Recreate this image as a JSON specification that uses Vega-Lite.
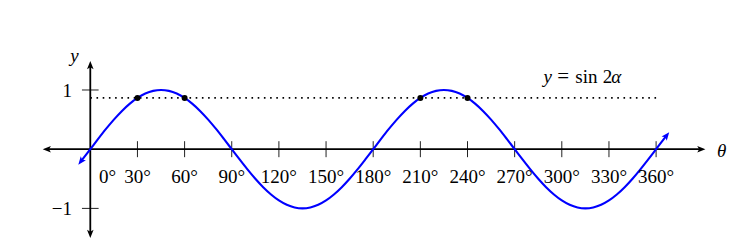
{
  "$schema": "https://vega.github.io/schema/vega-lite/v6.json",
  "width": 742,
  "height": 252,
  "padding": 0,
  "autosize": {"type": "none"},
  "background": "white",
  "config": {"view": {"stroke": null}},
  "datasets": {
    "curve": [
      {"x": -5.8, "y": -0.201}, {"x": -5, "y": -0.1736}, {"x": 0, "y": 0}, {"x": 5, "y": 0.1736},
      {"x": 10, "y": 0.342}, {"x": 15, "y": 0.5}, {"x": 20, "y": 0.6428}, {"x": 25, "y": 0.766},
      {"x": 30, "y": 0.866}, {"x": 35, "y": 0.9397}, {"x": 40, "y": 0.9848}, {"x": 45, "y": 1},
      {"x": 50, "y": 0.9848}, {"x": 55, "y": 0.9397}, {"x": 60, "y": 0.866}, {"x": 65, "y": 0.766},
      {"x": 70, "y": 0.6428}, {"x": 75, "y": 0.5}, {"x": 80, "y": 0.342}, {"x": 85, "y": 0.1736},
      {"x": 90, "y": 0}, {"x": 95, "y": -0.1736}, {"x": 100, "y": -0.342}, {"x": 105, "y": -0.5},
      {"x": 110, "y": -0.6428}, {"x": 115, "y": -0.766}, {"x": 120, "y": -0.866}, {"x": 125, "y": -0.9397},
      {"x": 130, "y": -0.9848}, {"x": 135, "y": -1}, {"x": 140, "y": -0.9848}, {"x": 145, "y": -0.9397},
      {"x": 150, "y": -0.866}, {"x": 155, "y": -0.766}, {"x": 160, "y": -0.6428}, {"x": 165, "y": -0.5},
      {"x": 170, "y": -0.342}, {"x": 175, "y": -0.1736}, {"x": 180, "y": 0}, {"x": 185, "y": 0.1736},
      {"x": 190, "y": 0.342}, {"x": 195, "y": 0.5}, {"x": 200, "y": 0.6428}, {"x": 205, "y": 0.766},
      {"x": 210, "y": 0.866}, {"x": 215, "y": 0.9397}, {"x": 220, "y": 0.9848}, {"x": 225, "y": 1},
      {"x": 230, "y": 0.9848}, {"x": 235, "y": 0.9397}, {"x": 240, "y": 0.866}, {"x": 245, "y": 0.766},
      {"x": 250, "y": 0.6428}, {"x": 255, "y": 0.5}, {"x": 260, "y": 0.342}, {"x": 265, "y": 0.1736},
      {"x": 270, "y": 0}, {"x": 275, "y": -0.1736}, {"x": 280, "y": -0.342}, {"x": 285, "y": -0.5},
      {"x": 290, "y": -0.6428}, {"x": 295, "y": -0.766}, {"x": 300, "y": -0.866}, {"x": 305, "y": -0.9397},
      {"x": 310, "y": -0.9848}, {"x": 315, "y": -1}, {"x": 320, "y": -0.9848}, {"x": 325, "y": -0.9397},
      {"x": 330, "y": -0.866}, {"x": 335, "y": -0.766}, {"x": 340, "y": -0.6428}, {"x": 345, "y": -0.5},
      {"x": 350, "y": -0.342}, {"x": 355, "y": -0.1736}, {"x": 360, "y": 0}, {"x": 365, "y": 0.1736},
      {"x": 366.5, "y": 0.225}
    ],
    "dotted": [{"x": 0, "x2": 360, "y": 0.866, "y2": 0.866}],
    "axes": [
      {"x": -27.3, "x2": 388.4, "y": 0, "y2": 0},
      {"x": 0, "x2": 0, "y": -1.421, "y2": 1.41}
    ],
    "ticks": [
      {"x": 30, "x2": 30, "y": -0.135, "y2": 0.135}, {"x": 60, "x2": 60, "y": -0.135, "y2": 0.135},
      {"x": 90, "x2": 90, "y": -0.135, "y2": 0.135}, {"x": 120, "x2": 120, "y": -0.135, "y2": 0.135},
      {"x": 150, "x2": 150, "y": -0.135, "y2": 0.135}, {"x": 180, "x2": 180, "y": -0.135, "y2": 0.135},
      {"x": 210, "x2": 210, "y": -0.135, "y2": 0.135}, {"x": 240, "x2": 240, "y": -0.135, "y2": 0.135},
      {"x": 270, "x2": 270, "y": -0.135, "y2": 0.135}, {"x": 300, "x2": 300, "y": -0.135, "y2": 0.135},
      {"x": 330, "x2": 330, "y": -0.135, "y2": 0.135}, {"x": 360, "x2": 360, "y": -0.135, "y2": 0.135},
      {"x": -5.3, "x2": 5.3, "y": 1, "y2": 1}, {"x": -5.3, "x2": 5.3, "y": -1, "y2": -1}
    ],
    "axisArrows": [
      {"x": -27.3, "y": 0, "a": 270}, {"x": 388.4, "y": 0, "a": 90},
      {"x": 0, "y": 1.41, "a": 0}, {"x": 0, "y": -1.421, "a": 180}
    ],
    "curveArrows": [
      {"x": -5.8, "y": -0.201, "a": 218}, {"x": 366.5, "y": 0.225, "a": 38}
    ],
    "points": [
      {"x": 30, "y": 0.866}, {"x": 60, "y": 0.866}, {"x": 210, "y": 0.866}, {"x": 240, "y": 0.866}
    ],
    "xlabels": [
      {"x": 10.9, "y": -0.571, "t": "0°"}, {"x": 30, "y": -0.571, "t": "30°"},
      {"x": 60, "y": -0.571, "t": "60°"}, {"x": 90, "y": -0.571, "t": "90°"},
      {"x": 120, "y": -0.571, "t": "120°"}, {"x": 150, "y": -0.571, "t": "150°"},
      {"x": 180, "y": -0.571, "t": "180°"}, {"x": 210, "y": -0.571, "t": "210°"},
      {"x": 240, "y": -0.571, "t": "240°"}, {"x": 270, "y": -0.571, "t": "270°"},
      {"x": 300, "y": -0.571, "t": "300°"}, {"x": 330, "y": -0.571, "t": "330°"},
      {"x": 360, "y": -0.571, "t": "360°"}
    ],
    "ylabels": [
      {"x": -11.6, "y": 0.887, "t": "1"}, {"x": -11.6, "y": -1.111, "t": "−1"}
    ],
    "italicCenter": [
      {"x": -10.05, "y": 1.473, "t": "y"}, {"x": 401.7, "y": -0.127, "t": "θ"}
    ],
    "italicLeft": [
      {"x": 288.4, "y": 1.118, "t": "y"}, {"x": 331.4, "y": 1.118, "t": "α"}
    ],
    "romanCenter": [
      {"x": 300.8, "y": 1.118, "t": "="}
    ],
    "romanLeft": [
      {"x": 308.6, "y": 1.118, "t": "sin"},
      {"x": 326.0, "y": 1.118, "t": "2"}
    ]
  },
  "encoding": {
    "x": {"field": "x", "type": "quantitative", "scale": {"domain": [-57.45, 414.65], "nice": false, "zero": false}, "axis": null},
    "y": {"field": "y", "type": "quantitative", "scale": {"domain": [-1.7365, 2.52], "nice": false, "zero": false}, "axis": null}
  },
  "layer": [
    {
      "data": {"name": "dotted"},
      "mark": {"type": "rule", "color": "black", "strokeWidth": 1.6, "strokeDash": [1.6, 4.6]},
      "encoding": {"x2": {"field": "x2"}, "y2": {"field": "y2"}}
    },
    {
      "data": {"name": "ticks"},
      "mark": {"type": "rule", "color": "#222", "strokeWidth": 1},
      "encoding": {"x2": {"field": "x2"}, "y2": {"field": "y2"}}
    },
    {
      "data": {"name": "axes"},
      "mark": {"type": "rule", "color": "black", "strokeWidth": 1.8},
      "encoding": {"x2": {"field": "x2"}, "y2": {"field": "y2"}}
    },
    {
      "data": {"name": "axisArrows"},
      "mark": {"type": "point", "shape": "M0,-1L0.7,0.75L0,0.35L-0.7,0.75Z", "filled": true, "size": 88, "color": "black", "opacity": 1, "strokeWidth": 0},
      "encoding": {"angle": {"field": "a", "type": "quantitative", "scale": null}}
    },
    {
      "data": {"name": "curve"},
      "mark": {"type": "line", "color": "#0000ff", "strokeWidth": 2.1, "interpolate": "monotone"}
    },
    {
      "data": {"name": "curveArrows"},
      "mark": {"type": "point", "shape": "M0,-1L0.7,0.75L0,0.35L-0.7,0.75Z", "filled": true, "size": 88, "color": "#0000ff", "opacity": 1, "strokeWidth": 0},
      "encoding": {"angle": {"field": "a", "type": "quantitative", "scale": null}}
    },
    {
      "data": {"name": "points"},
      "mark": {"type": "point", "shape": "circle", "filled": true, "size": 36, "color": "black", "opacity": 1, "strokeWidth": 0}
    },
    {
      "data": {"name": "xlabels"},
      "mark": {"type": "text", "font": "Liberation Serif", "fontSize": 19, "align": "center", "baseline": "alphabetic", "color": "black"},
      "encoding": {"text": {"field": "t"}}
    },
    {
      "data": {"name": "ylabels"},
      "mark": {"type": "text", "font": "Liberation Serif", "fontSize": 19, "align": "right", "baseline": "alphabetic", "color": "black"},
      "encoding": {"text": {"field": "t"}}
    },
    {
      "data": {"name": "italicCenter"},
      "mark": {"type": "text", "font": "Liberation Serif", "fontStyle": "italic", "fontSize": 19, "align": "center", "baseline": "alphabetic", "color": "black"},
      "encoding": {"text": {"field": "t"}}
    },
    {
      "data": {"name": "italicLeft"},
      "mark": {"type": "text", "font": "Liberation Serif", "fontStyle": "italic", "fontSize": 19, "align": "left", "baseline": "alphabetic", "color": "black"},
      "encoding": {"text": {"field": "t"}}
    },
    {
      "data": {"name": "romanCenter"},
      "mark": {"type": "text", "font": "Liberation Serif", "fontSize": 21, "align": "center", "baseline": "alphabetic", "color": "black"},
      "encoding": {"text": {"field": "t"}}
    },
    {
      "data": {"name": "romanLeft"},
      "mark": {"type": "text", "font": "Liberation Serif", "fontSize": 19, "align": "left", "baseline": "alphabetic", "color": "black"},
      "encoding": {"text": {"field": "t"}}
    }
  ]
}
